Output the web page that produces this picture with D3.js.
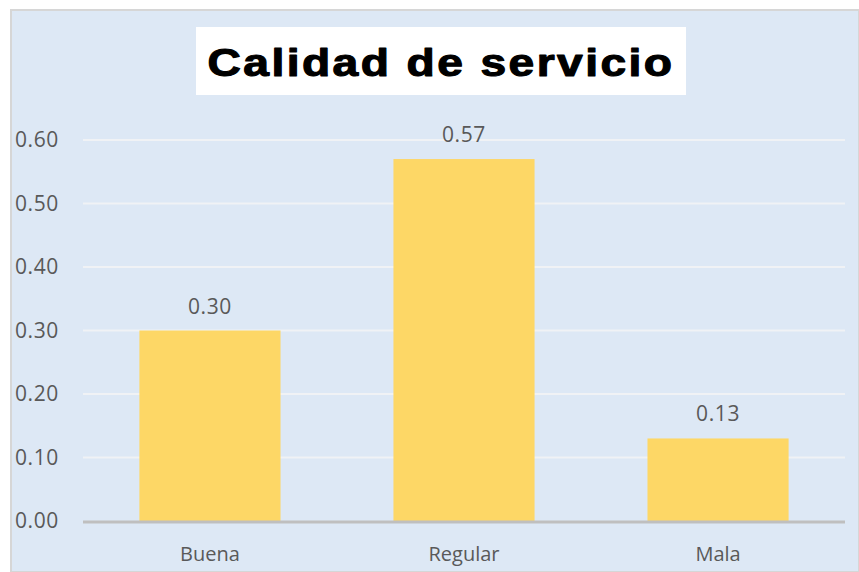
<!DOCTYPE html>
<html>
<head>
<meta charset="utf-8">
<script src="https://cdn.jsdelivr.net/npm/d3@7"></script>
<style>
html,body{margin:0;padding:0;background:#fff;}
svg{display:block;}
</style>
</head>
<body>
<svg id="chart" width="859" height="572"></svg>
<script>
const categories = ["Buena", "Regular", "Mala"];
const values = [0.30, 0.57, 0.13];
const yTicks = [0, 0.1, 0.2, 0.3, 0.4, 0.5, 0.6];
const title = "Calidad de servicio";

const svg = d3.select("#chart");
const W = 859, H = 572;
const textColor = "#595959";
const font = "'Open Sans', sans-serif";

// chart area background
svg.append("rect").attr("x", 11).attr("y", 10).attr("width", W - 11).attr("height", H - 10)
  .attr("fill", "#dde8f5").attr("stroke", "#d6d6d6").attr("stroke-width", 2);

const x0 = 83, x1 = 845, yTop = 140, yBase = 521;
const x = d3.scaleBand().domain(categories).range([x0, x1]).paddingInner(0.4445).paddingOuter(0.222);
const y = d3.scaleLinear().domain([0, 0.6]).range([yBase, yTop]);

// gridlines
svg.append("g").selectAll("line").data(yTicks.filter(d => d > 0)).join("line")
  .attr("x1", x0).attr("x2", x1)
  .attr("y1", d => y(d)).attr("y2", d => y(d))
  .attr("stroke", "#f0f2f5").attr("stroke-width", 2);

// y axis labels
const yAxis = d3.axisLeft(y).tickValues(yTicks).tickFormat(d3.format(".2f")).tickSize(0).tickPadding(0);
const gy = svg.append("g").attr("transform", "translate(15,0)").call(yAxis);
gy.select(".domain").remove();
gy.selectAll("text").attr("text-anchor", "start").attr("x", 0)
  .attr("fill", textColor).style("font-family", font).style("font-size", "21px")
  .style("letter-spacing", "0.6px");

// bars
svg.append("g").selectAll("rect").data(values).join("rect")
  .attr("x", (d, i) => x(categories[i]))
  .attr("width", x.bandwidth())
  .attr("y", d => y(d))
  .attr("height", d => y(0) - y(d))
  .attr("fill", "#fdd766");

// baseline
svg.append("line").attr("x1", x0).attr("x2", x1).attr("y1", yBase + 1).attr("y2", yBase + 1)
  .attr("stroke", "#bfbfbf").attr("stroke-width", 3);

// value labels
svg.append("g").selectAll("text").data(values).join("text")
  .attr("x", (d, i) => x(categories[i]) + x.bandwidth() / 2)
  .attr("y", d => y(d) - 17)
  .attr("text-anchor", "middle")
  .attr("fill", textColor)
  .style("font-family", font).style("font-size", "21px").style("letter-spacing", "0.6px")
  .text(d => d3.format(".2f")(d));

// x axis labels
const xAxis = d3.axisBottom(x).tickSize(0).tickPadding(0);
const gx = svg.append("g").attr("transform", `translate(0,${yBase})`).call(xAxis);
gx.select(".domain").remove();
gx.selectAll("text").attr("dy", null).attr("y", 40)
  .attr("fill", textColor).style("font-family", font).style("font-size", "20px");

// title
svg.append("rect").attr("x", 196).attr("y", 27).attr("width", 490).attr("height", 68).attr("fill", "#ffffff");
svg.append("text").attr("x", 441).attr("y", 76).attr("text-anchor", "middle")
  .attr("textLength", 467).attr("lengthAdjust", "spacingAndGlyphs")
  .style("font-family", "'Liberation Sans', Arial, sans-serif").style("font-weight", "bold")
  .style("font-size", "38px").style("letter-spacing", "2px").attr("fill", "#000")
  .attr("stroke", "#000").attr("stroke-width", 1.1).attr("stroke-linejoin", "round")
  .text(title);
</script>
</body>
</html>
